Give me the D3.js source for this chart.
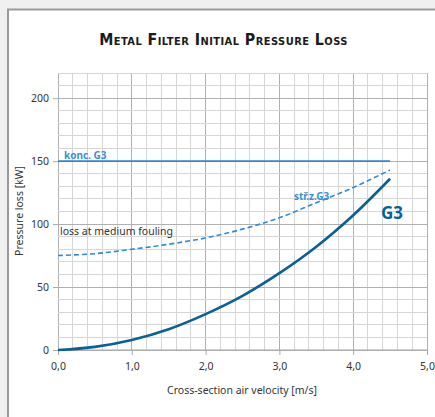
<!DOCTYPE html>
<html><head><meta charset="utf-8">
<script src="https://cdn.jsdelivr.net/npm/d3@7"></script>
<style>
html,body{margin:0;padding:0;background:#f0f0f0;}
svg{display:block;}
</style></head><body>
<svg id="chart" width="435" height="417"></svg>
<script>
const velocity = [0, 0.5, 1.0, 1.5, 2.0, 2.5, 3.0, 3.5, 4.0, 4.5];
const lossG3 = [0, 2.5, 8, 16.5, 28.5, 43, 61, 82, 107, 136];
const lossMedium = [75, 76.5, 80, 84, 89, 96, 105, 117, 129, 143];
const lossFinal = [150, 150];
const lossFinalX = [0, 4.5];
const xTicks = [0, 1, 2, 3, 4, 5];
const yTicks = [0, 50, 100, 150, 200];

const svg = d3.select("#chart");
// panel
svg.append("rect").attr("x", 8).attr("y", 9.5).attr("width", 440).attr("height", 420)
  .attr("fill", "#fff").attr("stroke", "#9a9a9a").attr("stroke-width", 2);

const m = {l: 58, r: 427, t: 73, b: 350};
const x = d3.scaleLinear().domain([0, 5]).range([m.l, m.r]);
const y = d3.scaleLinear().domain([0, 220]).range([m.b, m.t]);

const g = svg.append("g");
// grid
const xMinor = d3.range(0, 5.0001, 0.2);
const yMinor = d3.range(0, 220.001, 10);
g.selectAll(".vx").data(xMinor).enter().append("line")
  .attr("x1", d => x(d)).attr("x2", d => x(d)).attr("y1", m.t).attr("y2", m.b)
  .attr("stroke", d => Math.abs(d - Math.round(d)) < 1e-6 ? "#b0b0b0" : "#d6d6d6")
  .attr("stroke-width", 1).attr("shape-rendering", "crispEdges");
g.selectAll(".hy").data(yMinor).enter().append("line")
  .attr("x1", m.l).attr("x2", m.r).attr("y1", d => y(d)).attr("y2", d => y(d))
  .attr("stroke", d => d % 50 === 0 ? "#b0b0b0" : "#d6d6d6")
  .attr("stroke-width", 1).attr("shape-rendering", "crispEdges");

// axes
const xAxis = d3.axisBottom(x).tickValues(xTicks).tickSize(5).tickFormat(d => d3.format(".1f")(d).replace(".", ","));
const yAxis = d3.axisLeft(y).tickValues(yTicks).tickSize(5).tickPadding(4);
const gx = svg.append("g").attr("transform", `translate(0,${m.b})`).call(xAxis);
gx.select(".domain").attr("stroke", "#a8a8a8").attr("d", `M${m.l},0H${m.r}`);
gx.selectAll(".tick line").attr("stroke", "#a8a8a8");
gx.selectAll(".tick text").attr("dy", "1.1em").attr("font-size", 10.5).attr("fill", "#333")
  .attr("font-family", "Noto Sans, sans-serif");
const gy = svg.append("g").attr("transform", `translate(${m.l},0)`).call(yAxis);
gy.select(".domain").remove();
gy.selectAll(".tick line").attr("stroke", "#a8a8a8");
gy.selectAll(".tick text").attr("font-size", 10.5).attr("fill", "#333")
  .attr("font-family", "Noto Sans, sans-serif");

// lines
const line = d3.line().x((d, i) => x(velocity[i])).y(d => y(d)).curve(d3.curveCatmullRom.alpha(0.5));
svg.append("path").datum(lossFinal)
  .attr("d", d3.line().x((d, i) => x(lossFinalX[i])).y(d => y(d)))
  .attr("stroke", "#2e86cf").attr("stroke-width", 1.6).attr("fill", "none");
svg.append("path").datum(lossMedium).attr("d", line)
  .attr("stroke", "#2e8ad6").attr("stroke-width", 1.6).attr("fill", "none")
  .attr("stroke-dasharray", "5,3");
svg.append("path").datum(lossG3).attr("d", line)
  .attr("stroke", "#0b5f98").attr("stroke-width", 2.6).attr("fill", "none");

// labels
const font = "Noto Sans, sans-serif";
svg.append("text").attr("x", 64).attr("y", 158.5).text("konc. G3")
  .attr("font-family", font).attr("font-size", 10).attr("font-weight", "bold").attr("fill", "#3a8fd2");
svg.append("text").attr("x", 294).attr("y", 200).text("stř.z.G3")
  .attr("font-family", font).attr("font-size", 10).attr("font-weight", "bold").attr("fill", "#3a8fd2");
svg.append("text").attr("x", 60).attr("y", 234.5).text("loss at medium fouling")
  .attr("font-family", font).attr("font-size", 10.5).attr("fill", "#333");
svg.append("text").attr("x", 381).attr("y", 218.5).text("G3")
  .attr("font-family", font).attr("font-size", 17).attr("font-weight", "bold").attr("fill", "#0b5f98");

// title
svg.append("text").attr("x", 223.5).attr("y", 45).attr("text-anchor", "middle")
  .text("Metal Filter Initial Pressure Loss")
  .attr("font-family", "DejaVu Sans Condensed, DejaVu Sans, sans-serif")
  .attr("font-weight", "bold").attr("font-size", 15.8).style("font-variant", "small-caps")
  .attr("letter-spacing", 0.45).attr("fill", "#1a1a1a");

// axis titles
svg.append("text").attr("x", 242).attr("y", 394).attr("text-anchor", "middle")
  .text("Cross-section air velocity [m/s]").attr("font-family", font).attr("font-size", 10.5).attr("fill", "#333");
svg.append("text").attr("transform", "translate(23,211) rotate(-90)").attr("text-anchor", "middle")
  .text("Pressure loss [kW]").attr("font-family", font).attr("font-size", 10.5).attr("fill", "#333");
</script>
</body></html>
